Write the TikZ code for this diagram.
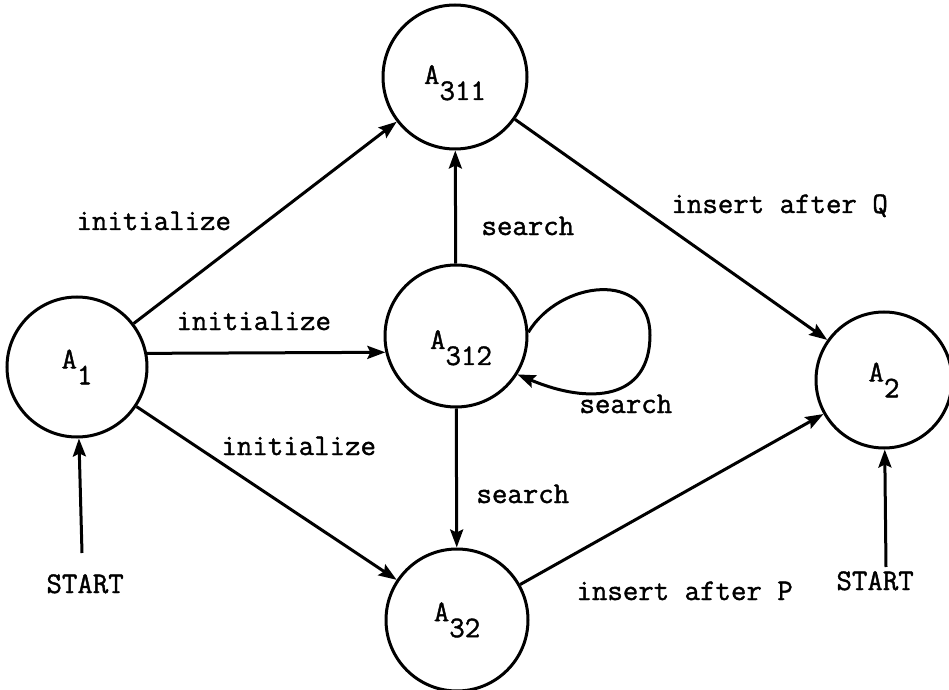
\documentclass[tikz,border=0pt]{standalone}
\usepackage{fontspec}
\newfontfamily\twfont{Latin Modern Mono}[FakeBold=1.3]
\usetikzlibrary{arrows.meta}
\newcommand\lowsub[1]{\raisebox{-8pt}{#1}}
\begin{document}
\begin{tikzpicture}[x=0.5pt,y=-0.5pt, line width=1.5pt,
  state/.style={draw, circle, inner sep=0pt, minimum size=#1, font=\twfont\fontsize{15}{17}\selectfont},
  lbl/.style={anchor=base west, inner sep=0pt, font=\twfont\fontsize{15}{17}\selectfont},
  arr/.style={-{Stealth[length=9pt,width=6.5pt,inset=1.5pt]}}]
\useasboundingbox[fill=white] (0,0) rectangle (949,690);

\node[state=70pt]  (A1)   at (77,367)  {A\lowsub{1}};
\node[state=72pt, text height=15pt, text depth=8pt]  (A311) at (455,77)  {A\lowsub{311}\hspace{10pt}};
\node[state=71pt, text height=21pt, text depth=8pt]  (A312) at (456,336) {\hspace{5pt}A\lowsub{312}};
\node[state=71pt]  (A32)  at (457,620) {A\lowsub{32}\hspace{6pt}};
\node[state=68pt]  (A2)   at (884,380) {A\lowsub{2}};

\coordinate (s1) at (82,553);
\coordinate (s2) at (886,567);
\coordinate (lp) at (650,335);

\draw[arr] (A1) -- (A311);
\draw[arr] (A1.11.5) -- (A312.193.9);
\draw[arr] (A1) -- (A32);
\draw[arr] (A312) -- (A311);
\draw[arr] (A312) -- (A32);
\draw[arr] (A311) -- (A2);
\draw[arr] (A32) -- (A2);
\draw[arr] (s1) -- (A1);
\draw[arr] (s2) -- (A2);
\draw[arr] (A312.3) .. controls (560,280) and (650,270) .. (lp)
                    .. controls (650,400) and (590,405) .. (A312.-32);

\node[lbl] (l1)  at (75,230)  {initialize};
\node[lbl] (l2)  at (175,330) {initialize};
\node[lbl] (l3)  at (220,455) {initialize};
\node[lbl] (l4)  at (480,235) {search};
\node[lbl] (l5)  at (475,503) {search};
\node[lbl] (l6)  at (578,413) {search};
\node[lbl] (l7)  at (670,213) {insert after Q};
\node[lbl] (l8)  at (575,600) {insert after P};
\node[lbl] (l9)  at (45,593)  {START};
\node[lbl] (l10) at (835,590) {START};
\end{tikzpicture}
\end{document}
